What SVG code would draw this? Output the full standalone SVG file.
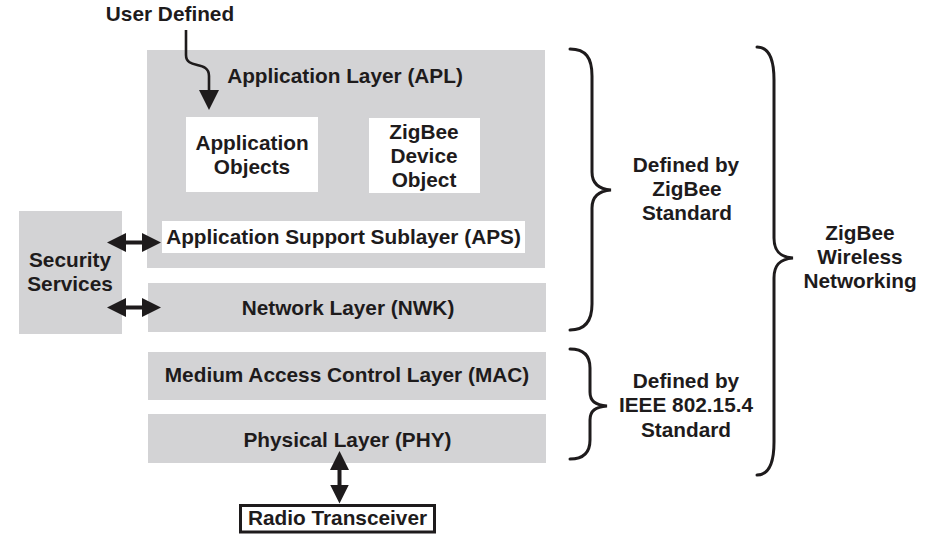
<svg xmlns="http://www.w3.org/2000/svg" width="932" height="550" viewBox="0 0 932 550">
  <style>
    .t { font-family: "Liberation Sans", Arial, Helvetica, sans-serif; font-weight: bold; font-size: 20.8px; fill: #1e1b1c; text-anchor: middle; }
    .gray { fill: #d3d3d5; }
    .white { fill: #ffffff; }
    .shaft { stroke: #1e1b1c; stroke-width: 4; fill: none; }
    .thin { stroke: #1e1b1c; stroke-width: 2.6; fill: none; }
    .brace { stroke: #1e1b1c; stroke-width: 3; fill: none; stroke-linecap: round; }
  </style>
  <defs>
    <marker id="head" markerUnits="userSpaceOnUse" markerWidth="19" markerHeight="19" viewBox="0 0 19 19" refX="11" refY="9.5" orient="auto-start-reverse">
      <path d="M0,0 L19,9.5 L0,19 z" fill="#1e1b1c"/>
    </marker>
    <marker id="head2" markerUnits="userSpaceOnUse" markerWidth="20" markerHeight="20" viewBox="0 0 20 20" refX="12" refY="10" orient="auto">
      <path d="M0,0 L20,10 L0,20 z" fill="#1e1b1c"/>
    </marker>
  </defs>
  <rect width="932" height="550" fill="#ffffff"/>

  <g id="user-defined">
    <text class="t" x="170" y="21">User Defined</text>
  </g>

  <g id="apl">
    <rect class="gray" x="147" y="50" width="398" height="218"/>
    <text class="t" x="345" y="83">Application Layer (APL)</text>
  </g>

  <g id="app-objects">
    <rect class="white" x="186" y="117" width="132" height="75"/>
    <text class="t" x="252" y="150">Application</text>
    <text class="t" x="252" y="174">Objects</text>
  </g>

  <g id="zdo">
    <rect class="white" x="369" y="118" width="111" height="75"/>
    <text class="t" x="424" y="139">ZigBee</text>
    <text class="t" x="424" y="163">Device</text>
    <text class="t" x="424" y="187">Object</text>
  </g>

  <g id="aps">
    <rect class="white" x="162" y="221" width="363" height="32"/>
    <text class="t" x="343.5" y="244">Application Support Sublayer (APS)</text>
  </g>

  <g id="security">
    <rect class="gray" x="19" y="211" width="103" height="123"/>
    <text class="t" x="70" y="267">Security</text>
    <text class="t" x="70" y="291">Services</text>
  </g>

  <g id="nwk">
    <rect class="gray" x="148" y="283" width="398" height="49"/>
    <text class="t" x="348" y="315">Network Layer (NWK)</text>
  </g>

  <g id="mac">
    <rect class="gray" x="148" y="352" width="398" height="48"/>
    <text class="t" x="347" y="382">Medium Access Control Layer (MAC)</text>
  </g>

  <g id="phy">
    <rect class="gray" x="148" y="414" width="398" height="49"/>
    <text class="t" x="347.5" y="447">Physical Layer (PHY)</text>
  </g>

  <g id="radio">
    <rect x="240.5" y="505.5" width="194" height="26.5" fill="#ffffff" stroke="#1e1b1c" stroke-width="3"/>
    <text class="t" x="337.5" y="525">Radio Transceiver</text>
  </g>

  <g id="zigbee-std">
    <text class="t" x="686" y="172">Defined by</text>
    <text class="t" x="687" y="196">ZigBee</text>
    <text class="t" x="687" y="220">Standard</text>
  </g>

  <g id="ieee-std">
    <text class="t" x="686" y="388">Defined by</text>
    <text class="t" x="686" y="412">IEEE 802.15.4</text>
    <text class="t" x="686" y="437">Standard</text>
  </g>

  <g id="zigbee-wireless">
    <text class="t" x="860" y="240">ZigBee</text>
    <text class="t" x="860" y="264">Wireless</text>
    <text class="t" x="860" y="288">Networking</text>
  </g>

  <g id="connectors">
    <path class="thin" d="M186,30 L186,55 C186,70 209,60 209,76 L209,102" marker-end="url(#head2)"/>
    <path class="shaft" d="M115,242.5 L153,242.5" marker-start="url(#head)" marker-end="url(#head)"/>
    <path class="shaft" d="M115,307.5 L153,307.5" marker-start="url(#head)" marker-end="url(#head)"/>
    <path class="shaft" d="M339.5,459 L339.5,495.5" marker-start="url(#head)" marker-end="url(#head)"/>
  </g>

  <g id="braces">
    <path class="brace" d="M570,49 C586,49 592,58 592,76 L592,172 C592,183 598,189 611,190 C598,191 592,197 592,208 L592,304 C592,320 586,330 570,330"/>
    <path class="brace" d="M570,349 C584,349 590,356 590,368 L590,392 C590,401 595,405 607,406 C595,407 590,411 590,420 L590,440 C590,452 584,459 570,459"/>
    <path class="brace" d="M757,47 C769,47 774,60 774,80 L774,238 C774,250 779,257 793,258 C779,259 774,266 774,278 L774,442 C774,462 769,475 757,475"/>
  </g>
</svg>
